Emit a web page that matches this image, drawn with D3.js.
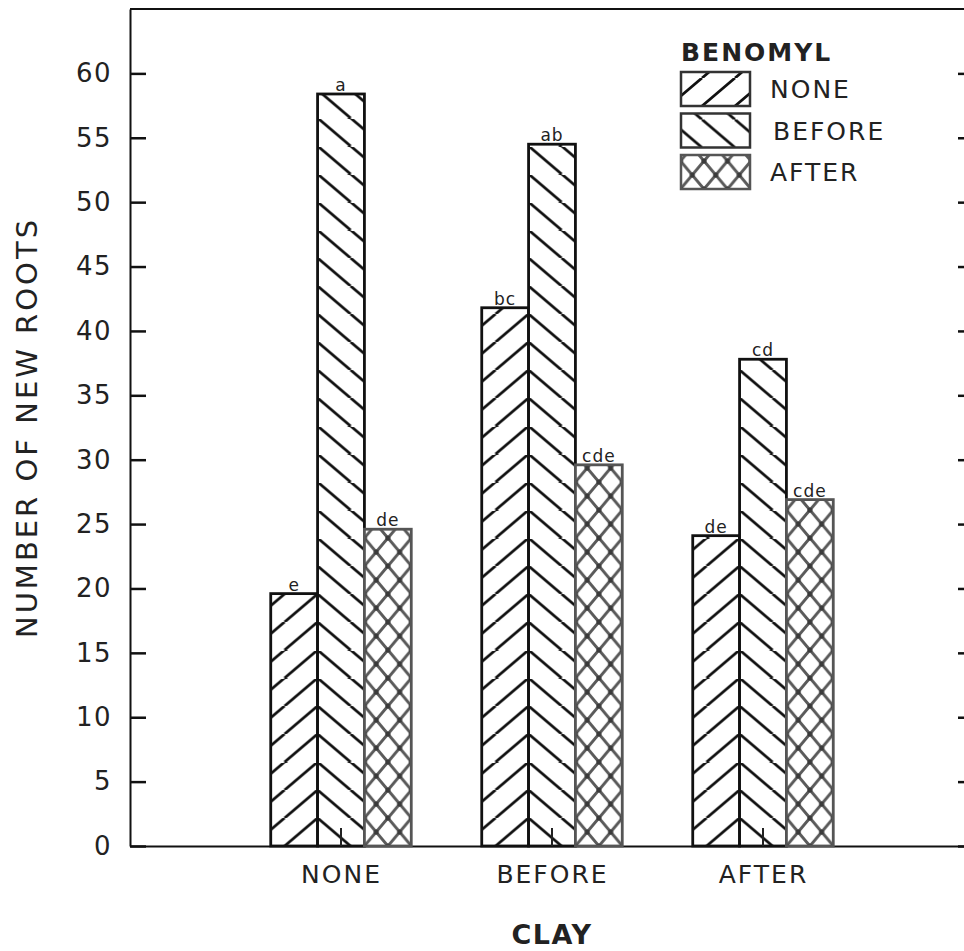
<!DOCTYPE html>
<html>
<head>
<meta charset="utf-8">
<script src="https://cdn.jsdelivr.net/npm/d3@7"></script>
<style>
  body { margin: 0; background: #fff; }
  text { font-family: "DejaVu Sans", sans-serif; fill: #222; }
</style>
</head>
<body>
<svg id="chart" width="964" height="951"></svg>
<script>
// clay treatment groups on the x axis, benomyl treatment = series
const clay = ["NONE", "BEFORE", "AFTER"];
const benomyl = ["NONE", "BEFORE", "AFTER"];

// number of new roots, one value per clay group
const benomylNone   = [19.6, 41.8, 24.1];
const benomylBefore = [58.4, 54.5, 37.8];
const benomylAfter  = [24.6, 29.6, 26.9];

// mean separation letters
const lettersNone   = ["e", "bc", "de"];
const lettersBefore = ["a", "ab", "cd"];
const lettersAfter  = ["de", "cde", "cde"];

const yTicks = [0, 5, 10, 15, 20, 25, 30, 35, 40, 45, 50, 55, 60];

const series = [
  { name: benomyl[0], values: benomylNone, letters: lettersNone, kind: "fwd" },
  { name: benomyl[1], values: benomylBefore, letters: lettersBefore, kind: "back" },
  { name: benomyl[2], values: benomylAfter, letters: lettersAfter, kind: "cross" }
];

const svg = d3.select("#chart");
const defs = svg.append("defs");

// plot area
const x = d3.scaleLinear().domain([0, 4]).range([130, 974]);
const y = d3.scaleLinear().domain([0, 65]).range([846, 9]);
const barW = x(0.222) - x(0);

// hatch tiles (userSpaceOnUse so lines of neighbouring bars meet)
const hatchW = 33, hatchH = 28, crossW = 23.5;

function makePattern(id, kind, ox, oy) {
  const w = kind === "cross" ? crossW : hatchW;
  const p = defs.append("pattern")
    .attr("id", id)
    .attr("patternUnits", "userSpaceOnUse")
    .attr("x", ox).attr("y", oy)
    .attr("width", w).attr("height", hatchH);
  p.append("rect").attr("width", w).attr("height", hatchH).attr("fill", "#fff");
  let d;
  if (kind === "fwd") {
    d = `M0,${hatchH}L${w},0M${-w},${hatchH}L0,0M${w},${hatchH}L${2 * w},0`;
  } else if (kind === "back") {
    d = `M0,0L${w},${hatchH}M${-w},0L0,${hatchH}M${w},0L${2 * w},${hatchH}`;
  } else {
    d = `M0,0L${w},${hatchH}M${-w},0L0,${hatchH}M${w},0L${2 * w},${hatchH}` +
        `M0,${hatchH}L${w},0M${-w},${hatchH}L0,0M${w},${hatchH}L${2 * w},0`;
  }
  p.append("path")
    .attr("d", d)
    .attr("stroke", kind === "cross" ? "#5a5a5a" : "#111")
    .attr("stroke-width", kind === "cross" ? 3 : 2.8)
    .attr("fill", "none");
  if (kind === "cross") {
    [[0, 0], [w, 0], [0, hatchH], [w, hatchH], [w / 2, hatchH / 2]].forEach(c => {
      p.append("circle").attr("cx", c[0]).attr("cy", c[1]).attr("r", 2.6).attr("fill", "#3a3a3a");
    });
  }
}

// axes
svg.append("g")
  .attr("transform", `translate(${x(0)},0)`)
  .call(d3.axisLeft(y).tickValues(yTicks).tickSize(-16).tickSizeOuter(0).tickPadding(18))
  .call(g => g.select(".domain").attr("stroke", "#111").attr("stroke-width", 2))
  .call(g => g.selectAll(".tick line").attr("stroke", "#111").attr("stroke-width", 2.5))
  .call(g => g.selectAll("text")
    .attr("font-size", 26).attr("letter-spacing", 1.5).attr("fill", "#222")
    .attr("font-family", "DejaVu Sans, sans-serif"));

svg.append("g")
  .attr("transform", `translate(${x(4)},0)`)
  .call(d3.axisRight(y).tickValues(yTicks).tickSize(-16).tickSizeOuter(0).tickFormat(""))
  .call(g => g.select(".domain").attr("stroke", "#111").attr("stroke-width", 2))
  .call(g => g.selectAll(".tick line").attr("stroke", "#111").attr("stroke-width", 2.5));

svg.append("g")
  .attr("transform", `translate(0,${y(0)})`)
  .call(d3.axisBottom(x).tickValues([1, 2, 3]).tickFormat(d => clay[d - 1]).tickSize(0).tickSizeOuter(0).tickPadding(19))
  .call(g => g.select(".domain").attr("stroke", "#111").attr("stroke-width", 2))
  .call(g => g.selectAll("text")
    .attr("font-size", 25).attr("letter-spacing", 2).attr("fill", "#222")
    .attr("font-family", "DejaVu Sans, sans-serif"));

// top frame line
svg.append("line")
  .attr("x1", x(0)).attr("x2", x(4))
  .attr("y1", y(65)).attr("y2", y(65))
  .attr("stroke", "#111").attr("stroke-width", 2);

// bars
series.forEach((s, si) => {
  s.values.forEach((v, gi) => {
    const center = x(gi + 1);
    const left = center + (si - 1.5) * barW;
    const ox = s.kind === "cross" ? left : center - 0.5 * barW;
    const id = `pat-${gi}-${si}`;
    makePattern(id, s.kind, ox, y(0));

    svg.append("rect")
      .attr("x", left)
      .attr("y", y(v))
      .attr("width", barW)
      .attr("height", y(0) - y(v))
      .attr("fill", `url(#${id})`)
      .attr("stroke", s.kind === "cross" ? "#555" : "#111")
      .attr("stroke-width", 2.8);

    svg.append("text")
      .attr("x", left + barW / 2)
      .attr("y", y(v) - 3)
      .attr("text-anchor", "middle")
      .attr("font-size", 17)
      .attr("letter-spacing", 1)
      .text(s.letters[gi]);
  });
});

// short stubs at group centres
clay.forEach((c, gi) => {
  svg.append("line")
    .attr("x1", x(gi + 1)).attr("x2", x(gi + 1))
    .attr("y1", y(0)).attr("y2", y(1.4))
    .attr("stroke", "#222").attr("stroke-width", 2);
});

// legend
const legend = svg.append("g").attr("transform", "translate(681,0)");
legend.append("text")
  .attr("x", 0).attr("y", 61)
  .attr("font-size", 25).attr("font-weight", "bold").attr("letter-spacing", 2)
  .text("BENOMYL");

series.forEach((s, si) => {
  const by = 72 + si * 41.5;
  const id = `leg-${si}`;
  makePattern(id, s.kind, 681, by + 34);
  legend.append("rect")
    .attr("x", 0).attr("y", by)
    .attr("width", 69).attr("height", 34)
    .attr("fill", `url(#${id})`)
    .attr("stroke", s.kind === "cross" ? "#555" : "#333")
    .attr("stroke-width", 2.5);
  legend.append("text")
    .attr("x", 89 + (si === 1 ? 3 : 0)).attr("y", by + 26)
    .attr("font-size", 25).attr("letter-spacing", 2)
    .text(s.name);
});

// axis titles
svg.append("text")
  .attr("transform", `translate(37,${y(32.5)}) rotate(-90)`)
  .attr("text-anchor", "middle")
  .attr("font-size", 29)
  .attr("letter-spacing", 3)
  .text("NUMBER OF NEW ROOTS");

svg.append("text")
  .attr("x", x(2))
  .attr("y", 944)
  .attr("text-anchor", "middle")
  .attr("font-size", 27)
  .attr("font-weight", "bold")
  .attr("letter-spacing", 1.5)
  .text("CLAY");
</script>
</body>
</html>
